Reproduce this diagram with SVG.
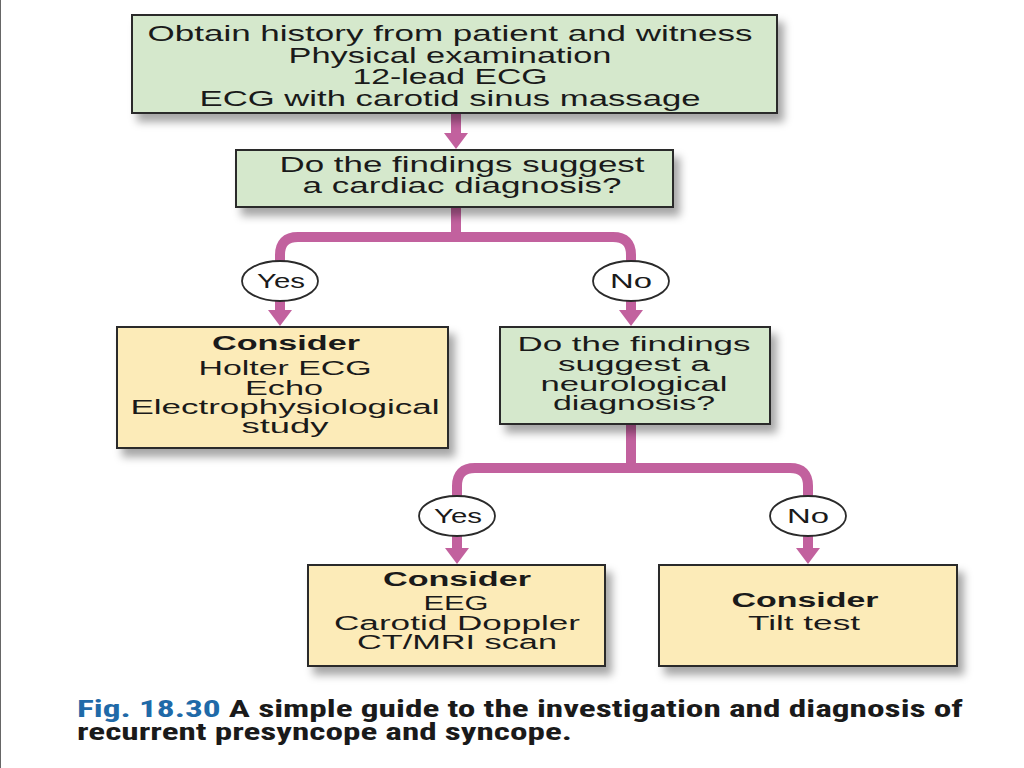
<svg xmlns="http://www.w3.org/2000/svg" width="1024" height="768" viewBox="0 0 1024 768">
<style>
.t{font-family:"Liberation Sans",Arial,sans-serif;font-size:20px;fill:#1a1a1a;text-anchor:middle}
.L{font-size:22px}
.b{font-weight:bold}
.g{fill:#d5e8cc;stroke:#2a2a2a;stroke-width:2}
.y{fill:#fcebb8;stroke:#2a2a2a;stroke-width:2}
.c{fill:none;stroke:#c2619e;stroke-width:10;stroke-linejoin:round}
.h{fill:#c2619e}
.o{fill:#fff;stroke:#2a2a2a;stroke-width:1.8}
.cap{font-family:"Liberation Sans Narrow","Roboto Condensed","Liberation Sans",sans-serif;font-size:23px;font-weight:bold;fill:#1a1a1a}
</style>
<defs>
<filter id="sh" x="-10%" y="-10%" width="130%" height="140%">
<feDropShadow dx="6" dy="8" stdDeviation="4" flood-color="#000" flood-opacity="0.35"/>
</filter>
</defs>
<rect width="1024" height="768" fill="#fff"/>
<line x1="0.5" y1="0" x2="0.5" y2="768" stroke="#666" stroke-width="1"/>

<g id="connectors">
<path class="c" d="M456 113 V134"/>
<polygon class="h" points="444,133 468,133 456,149"/>
<path class="c" d="M456 207 V237 M280 262 V255 Q280 237 298 237 H613 Q631 237 631 255 V262"/>
<path class="c" d="M280 300 V311 M631 300 V311"/>
<polygon class="h" points="268,310 292,310 280,326"/>
<polygon class="h" points="619,310 643,310 631,326"/>
<path class="c" d="M631 424 V468 M457 498 V486 Q457 468 475 468 H790 Q808 468 808 486 V498"/>
<path class="c" d="M457 535 V549 M808 535 V549"/>
<polygon class="h" points="445,548 469,548 457,564"/>
<polygon class="h" points="796,548 820,548 808,564"/>
</g>

<g id="n1">
<rect class="g" x="132" y="15" width="645" height="98" filter="url(#sh)"/>
<text class="t L" x="450" y="41" textLength="605" lengthAdjust="spacingAndGlyphs">Obtain history from patient and witness</text>
<text class="t L" x="450" y="63" textLength="323" lengthAdjust="spacingAndGlyphs">Physical examination</text>
<text class="t L" x="450" y="84" textLength="195" lengthAdjust="spacingAndGlyphs">12-lead ECG</text>
<text class="t L" x="450" y="106" textLength="501" lengthAdjust="spacingAndGlyphs">ECG with carotid sinus massage</text>
</g>

<g id="n2">
<rect class="g" x="236" y="150" width="437" height="57" filter="url(#sh)"/>
<text class="t L" x="462" y="172" textLength="365" lengthAdjust="spacingAndGlyphs">Do the findings suggest</text>
<text class="t L" x="462" y="193" textLength="319" lengthAdjust="spacingAndGlyphs">a cardiac diagnosis?</text>
</g>

<g id="yes1">
<ellipse class="o" cx="280" cy="281" rx="38" ry="20"/>
<text class="t" x="281" y="288" textLength="48" lengthAdjust="spacingAndGlyphs">Yes</text>
</g>
<g id="no1">
<ellipse class="o" cx="631" cy="281" rx="38" ry="20"/>
<text class="t" x="631" y="288" textLength="42" lengthAdjust="spacingAndGlyphs">No</text>
</g>

<g id="n3">
<rect class="y" x="117" y="327" width="331" height="121" filter="url(#sh)"/>
<text class="t b" x="286" y="350" textLength="148" lengthAdjust="spacingAndGlyphs">Consider</text>
<text class="t" x="285" y="375" textLength="173" lengthAdjust="spacingAndGlyphs">Holter ECG</text>
<text class="t" x="284" y="395" textLength="78" lengthAdjust="spacingAndGlyphs">Echo</text>
<text class="t" x="285" y="414" textLength="309" lengthAdjust="spacingAndGlyphs">Electrophysiological</text>
<text class="t" x="285" y="433" textLength="87" lengthAdjust="spacingAndGlyphs">study</text>
</g>

<g id="n4">
<rect class="g" x="500" y="327" width="270" height="97" filter="url(#sh)"/>
<text class="t" x="634" y="351" textLength="233" lengthAdjust="spacingAndGlyphs">Do the findings</text>
<text class="t" x="634" y="371" textLength="152" lengthAdjust="spacingAndGlyphs">suggest a</text>
<text class="t" x="634" y="391" textLength="187" lengthAdjust="spacingAndGlyphs">neurological</text>
<text class="t" x="634" y="410" textLength="162" lengthAdjust="spacingAndGlyphs">diagnosis?</text>
</g>

<g id="yes2">
<ellipse class="o" cx="457" cy="516" rx="38" ry="20"/>
<text class="t" x="458" y="523" textLength="48" lengthAdjust="spacingAndGlyphs">Yes</text>
</g>
<g id="no2">
<ellipse class="o" cx="808" cy="516" rx="38" ry="20"/>
<text class="t" x="808" y="523" textLength="42" lengthAdjust="spacingAndGlyphs">No</text>
</g>

<g id="n5">
<rect class="y" x="308" y="565" width="297" height="101" filter="url(#sh)"/>
<text class="t b" x="457" y="586" textLength="148" lengthAdjust="spacingAndGlyphs">Consider</text>
<text class="t" x="456" y="610" textLength="65" lengthAdjust="spacingAndGlyphs">EEG</text>
<text class="t" x="457" y="630" textLength="246" lengthAdjust="spacingAndGlyphs">Carotid Doppler</text>
<text class="t" x="457" y="649" textLength="200" lengthAdjust="spacingAndGlyphs">CT/MRI scan</text>
</g>

<g id="n6">
<rect class="y" x="659" y="565" width="298" height="101" filter="url(#sh)"/>
<text class="t b" x="805" y="607" textLength="147" lengthAdjust="spacingAndGlyphs">Consider</text>
<text class="t" x="804" y="630" textLength="112" lengthAdjust="spacingAndGlyphs">Tilt test</text>
</g>

<g id="caption">
<text class="cap" x="77" y="717" textLength="886" lengthAdjust="spacingAndGlyphs"><tspan fill="#1f6aa8">Fig. 18.30</tspan>  A simple guide to the investigation and diagnosis of</text>
<text class="cap" x="77" y="740" textLength="495" lengthAdjust="spacingAndGlyphs">recurrent presyncope and syncope.</text>
</g>
</svg>
